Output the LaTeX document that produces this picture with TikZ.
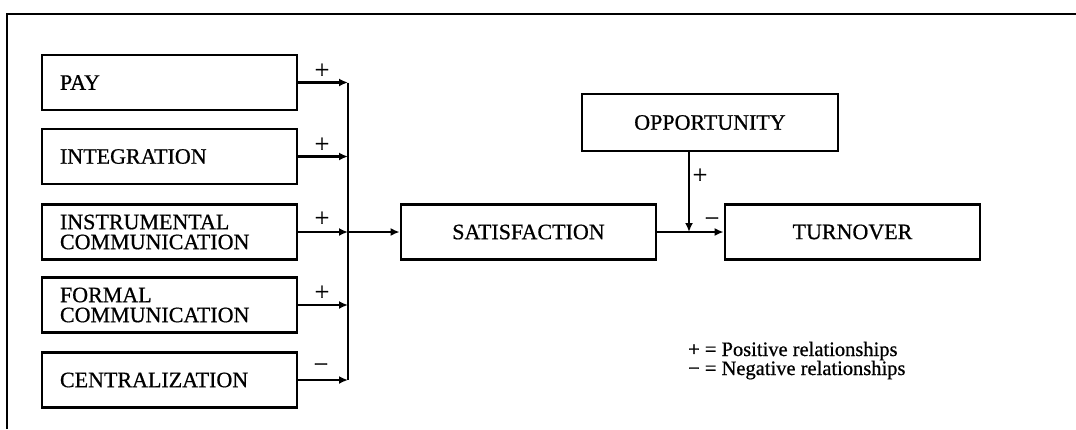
\documentclass[tikz,border=0pt]{standalone}
\usepackage{fontspec}
\setmainfont{Liberation Serif}
\newfontface\inkfont{Liberation Serif}[FakeBold=0.7]
\usetikzlibrary{arrows.meta}
\begin{document}
\begin{tikzpicture}[x=1pt,y=-1pt,
  box/.style={draw, line width=2.8pt, minimum width=255pt, minimum height=55pt,
    inner sep=0pt, font=\inkfont\fontsize{22}{20}\selectfont},
  leftbox/.style={box, inner xsep=18pt, text width=219pt, align=left},
  conn/.style={line width=2.8pt, -{Latex[length=9pt,width=8pt]}},
  bus/.style={line width=2.8pt},
  sign/.style={inner sep=0pt, font=\inkfont\fontsize{26}{26}\selectfont},
  legendtext/.style={inner sep=0pt, font=\inkfont\fontsize{20.5}{19}\selectfont}]
  \useasboundingbox (0,0) rectangle (1076,429);
  % outer frame (top and left edges)
  \draw[line width=2.4pt] (7,429) -- (7,14) -- (1076,14);

  % input variables
  \node[leftbox] (pay)    at (169.5,82.5)  {PAY};
  \node[leftbox] (integ)  at (169.5,156.5) {INTEGRATION};
  \node[leftbox] (instr)  at (169.5,232)   {INSTRUMENTAL\\COMMUNICATION};
  \node[leftbox] (formal) at (169.5,305)   {FORMAL\\COMMUNICATION};
  \node[leftbox] (central) at (169.5,380)  {CENTRALIZATION};

  % central and outcome variables
  \node[box] (sat)  at (528.5,232) {SATISFACTION};
  \node[box] (turn) at (852.5,232) {TURNOVER};
  \node[box, minimum width=256pt, minimum height=57pt] (opp) at (710,122.5) {OPPORTUNITY};

  % collecting bus
  \coordinate (bustop) at (348,82.5);
  \coordinate (busbot) at (348,380);
  \draw[bus] (bustop) -- (busbot);
  \draw[conn] (pay.east)     -- (pay.east -| bustop);
  \draw[conn] (integ.east)   -- (integ.east -| bustop);
  \draw[conn] (instr.east)   -- (instr.east -| bustop);
  \draw[conn] (formal.east)  -- (formal.east -| bustop);
  \draw[conn] (central.east) -- (central.east -| bustop);
  \draw[conn] (instr.east -| bustop) -- (sat.west);

  % satisfaction to turnover, moderated by opportunity
  \coordinate (junction) at (689,232);
  \draw[conn] (sat.east) -- (turn.west);
  \draw[conn] (opp.south -| junction) -- (junction);

  % relationship signs
  \node[sign] (s1) at (322,71)  {+};
  \node[sign] (s2) at (322,145) {+};
  \node[sign] (s3) at (322,219) {+};
  \node[sign] (s4) at (322,293) {+};
  \node[sign] (s5) at (321,368) {−};
  \node[sign] (s6) at (700,176) {+};
  \node[sign] (s7) at (712,222) {−};

  % legend
  \node[legendtext, anchor=base west] (leg1) at (688,356) {+ = Positive relationships};
  \node[legendtext, anchor=base west] (leg2) at (688,375) {− = Negative relationships};
\end{tikzpicture}
\end{document}
